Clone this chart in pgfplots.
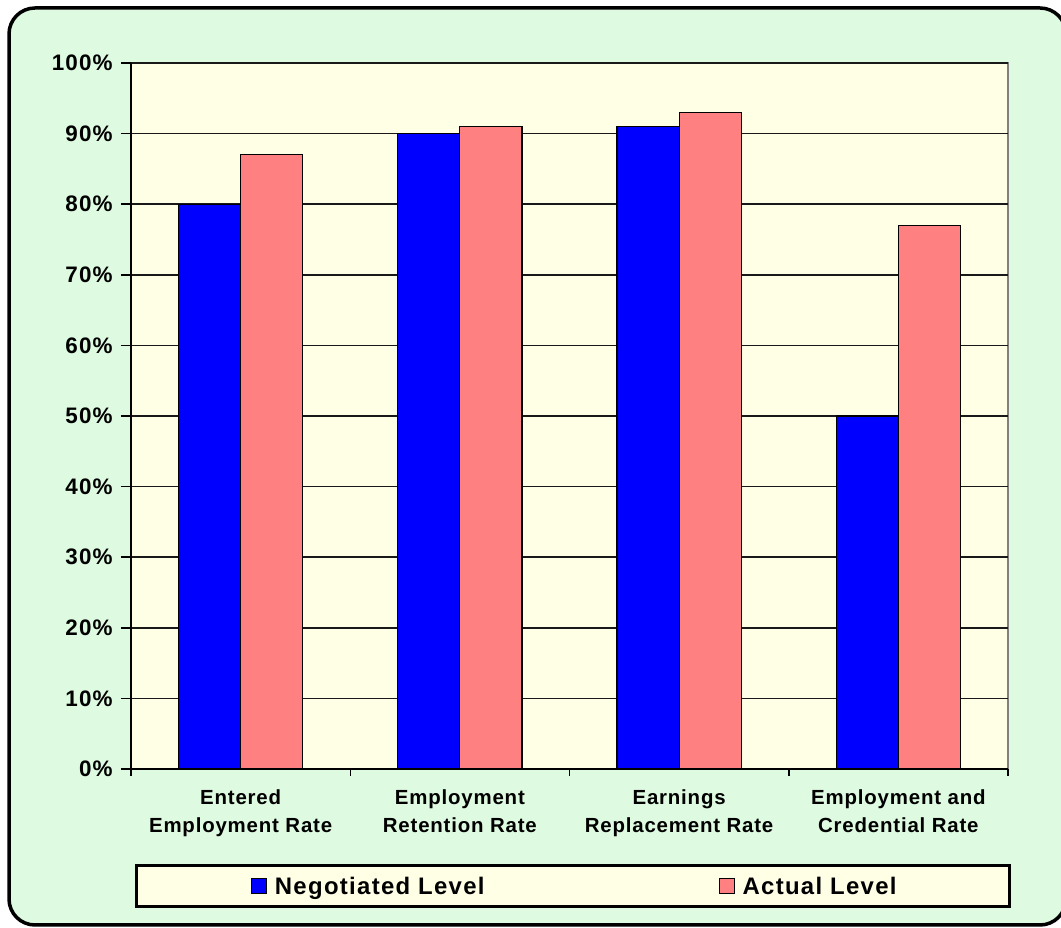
\documentclass[border=0pt]{standalone}
\usepackage{pgfplots}
\pgfplotsset{compat=1.18}
\usepackage{fontspec}
\setmainfont{Liberation Sans}
\newfontfamily\ticksfont[LetterSpace=5]{Liberation Sans}
\newfontfamily\catfont[LetterSpace=4]{Liberation Sans}
\newfontfamily\legfont[LetterSpace=5.5]{Liberation Sans}
\definecolor{greenbg}{RGB}{222,250,224}
\definecolor{yellowbg}{RGB}{255,255,230}
\definecolor{barblue}{RGB}{0,0,255}
\definecolor{barpink}{RGB}{255,128,128}
\begin{document}
\begin{tikzpicture}
\useasboundingbox (0,0) rectangle (1061bp,928bp);
\begin{scope}
\clip (0,0) rectangle (1061bp,928bp);
\draw[line width=3.5bp, rounded corners=26bp, fill=greenbg] (9bp,3bp) rectangle (1066bp,920bp);
\end{scope}
% legend box
\draw[line width=3bp, fill=yellowbg] (136bp,21bp) rectangle (1009bp,62bp);
\begin{axis}[
  at={(131bp,159bp)}, anchor=south west,
  width=877bp, height=706bp, scale only axis,
  xmin=0.5, xmax=4.5, ymin=0, ymax=100,
  ybar=0pt, bar width=0.283,
  axis background/.style={fill=yellowbg, draw=gray, line width=1.5bp},
  axis x line*=bottom, axis y line*=left,
  axis line style={black, line width=1.5bp, -},
  ymajorgrids, major grid style={black!90, line width=1.6bp},
  ytick={0,10,...,100},
  yticklabel={\pgfmathprintnumber{\tick}\kern1bp\%},
  /pgf/number format/assume math mode=true,
  y tick label style={font=\ticksfont\bfseries\fontsize{22.5}{26}\selectfont, xshift=-5bp},
  ytick style={black, line width=1.5bp},
  tick align=outside, major tick length=10bp,
  xtick={1,2,3,4},
  xticklabels={{Entered\\Employment Rate},{Employment\\Retention Rate},{Earnings\\Replacement Rate},{Employment and\\Credential Rate}},
  x tick label style={font=\catfont\bfseries\fontsize{20.5}{28}\selectfont, align=center, yshift=-7bp},
  x tick style={draw=none},
  extra x ticks={0.5,1.5,2.5,3.5,4.5},
  extra x tick labels={},
  extra x tick style={grid=none, x tick style={draw=black, line width=1.5bp}, major tick length=7bp},
  legend style={at={(0.506,-0.166)}, anchor=center, draw=none, fill=none,
    font=\legfont\bfseries\fontsize{24}{28}\selectfont, legend columns=2,
    /tikz/every odd column/.append style={column sep=6bp},
    /tikz/every even column/.append style={column sep=232bp}},
  legend image code/.code={\draw[#1, draw=black, line width=1bp] (0bp,-7.5bp) rectangle (15bp,7.5bp);},
]
\addplot[fill=barblue, draw=black, line width=1.2bp] coordinates {(1,80) (2,90) (3,91) (4,50)};
\addplot[fill=barpink, draw=black, line width=1.2bp] coordinates {(1,87) (2,91) (3,93) (4,77)};
\legend{Negotiated Level, Actual Level}
\end{axis}
\end{tikzpicture}
\end{document}
